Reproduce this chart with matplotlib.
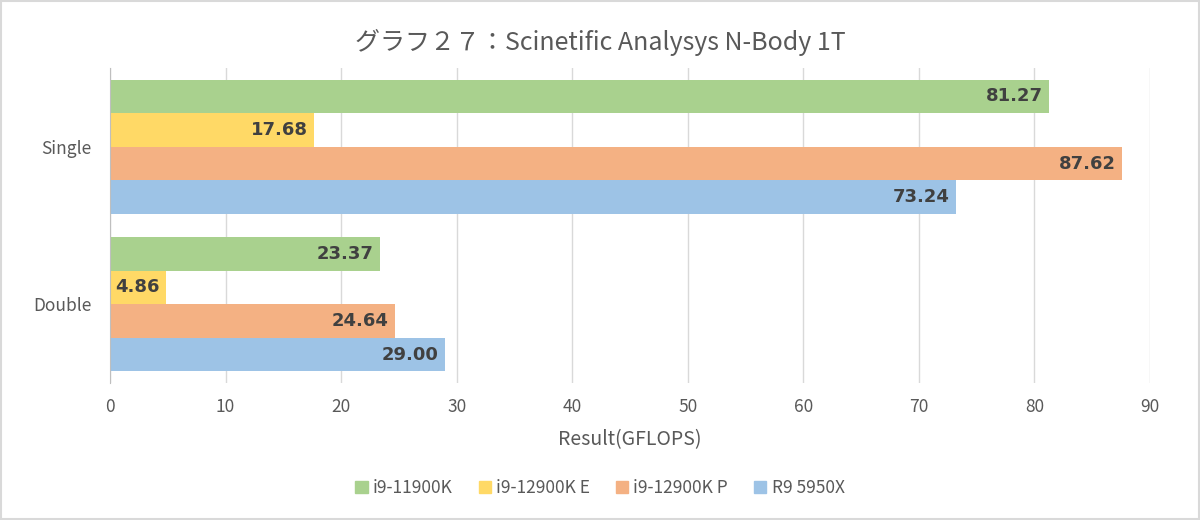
import numpy as np
import matplotlib.pyplot as plt
from matplotlib.patches import Rectangle

plt.rcParams['font.family'] = ['Noto Sans CJK JP', 'DejaVu Sans']

# データ
categories = ["Single", "Double"]
series_names = ["i9-11900K", "i9-12900K E", "i9-12900K P", "R9 5950X"]
values = {
    "i9-11900K": [81.27, 23.37],
    "i9-12900K E": [17.68, 4.86],
    "i9-12900K P": [87.62, 24.64],
    "R9 5950X": [73.24, 29.00],
}
colors = ["#A9D18E", "#FFD966", "#F4B183", "#9DC3E6"]
x_ticks = [0, 10, 20, 30, 40, 50, 60, 70, 80, 90]

title = "グラフ２７：Scinetific Analysys N-Body 1T"
xlabel = "Result(GFLOPS)"

fig = plt.figure(figsize=(12, 5.2), dpi=100)
ax = fig.add_axes([110 / 1200, 1 - 383 / 520, 1040 / 1200, 315 / 520])

n = len(series_names)
h = 0.851 / n
y = np.arange(len(categories))

for i, name in enumerate(series_names):
    pos = y + (i - (n - 1) / 2) * h
    bars = ax.barh(pos, values[name], height=h, color=colors[i], zorder=2)
    for b, v in zip(bars, values[name]):
        ax.text(v - 0.55, b.get_y() + h / 2, f"{v:.2f}", ha="right", va="center",
                fontsize=13, fontweight="bold", color="#404040",
                family=["DejaVu Sans"], zorder=3)

ax.set_xlim(0, 90)
ax.set_ylim(1.5, -0.5)
ax.set_xticks(x_ticks)
ax.set_yticks(y)
ax.set_yticklabels(categories)
ax.grid(axis="x", color="#D9D9D9", linewidth=1, zorder=0)
ax.tick_params(axis="both", length=0, labelsize=12.5, labelcolor="#595959")
ax.tick_params(axis="x", pad=11)
ax.tick_params(axis="y", pad=13)
for s in ["top", "right", "bottom"]:
    ax.spines[s].set_visible(False)
ax.spines["left"].set_color("#BFBFBF")
ax.spines["left"].set_zorder(4)

ax.set_xlabel(xlabel, fontsize=14, color="#595959", labelpad=9)
fig.text(0.5, 1 - 42 / 520, title, ha="center", va="center", fontsize=18, color="#595959")

handles = [Rectangle((0, 0), 1, 1, color=c) for c in colors]
fig.legend(handles, series_names, loc="center", bbox_to_anchor=(0.5, 1 - 488 / 520),
           ncol=4, frameon=False, fontsize=12.5, handlelength=0.7, handleheight=0.7,
           handletextpad=0.3, columnspacing=1.5, labelcolor="#595959")

fig.patches.append(Rectangle((0.001, 0.002), 0.998, 0.996, transform=fig.transFigure,
                             fill=False, edgecolor="#D9D9D9", linewidth=1.5))

fig.savefig("out.png", dpi=100, facecolor="white")
